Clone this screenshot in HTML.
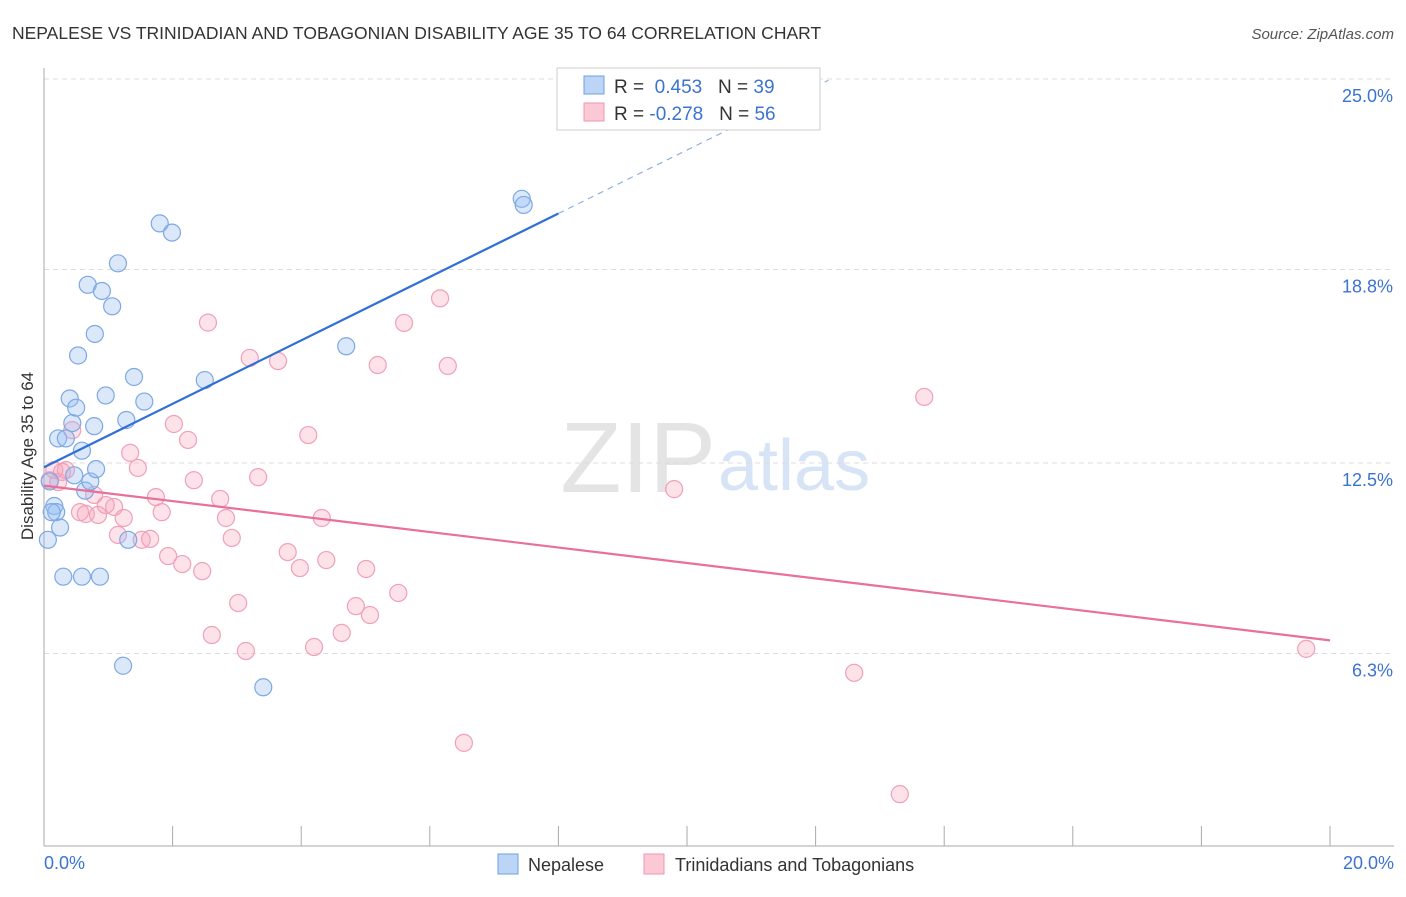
<!DOCTYPE html>
<html><head><meta charset="utf-8"><style>
body{margin:0;background:#fff;font-family:"Liberation Sans",sans-serif;}
svg text{font-family:"Liberation Sans",sans-serif;}
</style></head><body>
<svg id="c" width="1406" height="892">
<text x="12" y="39" font-size="17.5" fill="#333">NEPALESE VS TRINIDADIAN AND TOBAGONIAN DISABILITY AGE 35 TO 64 CORRELATION CHART</text>
<text x="1394" y="39" font-size="15" fill="#555" text-anchor="end" font-style="italic">Source: ZipAtlas.com</text>
<text x="716" y="492" font-size="100" fill="#e4e4e4" text-anchor="end" font-family="Liberation Serif">ZIP</text>
<text x="718" y="490" font-size="72" fill="#d6e4f5">atlas</text>
<g id="grid"></g><g id="pts"></g><g id="lines"></g>
<text transform="translate(33,456) rotate(-90)" font-size="17" fill="#333" text-anchor="middle">Disability Age 35 to 64</text>
<text x="44" y="869" font-size="18" fill="#3b73d1">0.0%</text>
<text x="1394" y="869" font-size="18" fill="#3b73d1" text-anchor="end">20.0%</text>
<g>
<rect x="557" y="68" width="263" height="62" fill="#fff" stroke="#ccc"/>
<rect x="584" y="76" width="20" height="18" fill="#bcd4f5" stroke="#6f9fe0"/>
<rect x="584" y="103" width="20" height="18" fill="#fbc9d6" stroke="#ee95ae"/>
<text x="614" y="93" font-size="19" fill="#333">R = <tspan fill="#3b73d1">&#160;0.453</tspan>&#160;&#160;&#160;N = <tspan fill="#3b73d1">39</tspan></text>
<text x="614" y="120" font-size="19" fill="#333">R = <tspan fill="#3b73d1">-0.278</tspan>&#160;&#160;&#160;N = <tspan fill="#3b73d1">56</tspan></text>
</g>
<g>
<rect x="498" y="854" width="20" height="20" fill="#bcd4f5" stroke="#6f9fe0"/>
<text x="528" y="871" font-size="18" fill="#333">Nepalese</text>
<rect x="644" y="854" width="20" height="20" fill="#fbc9d6" stroke="#ee95ae"/>
<text x="675" y="871" font-size="18" fill="#333">Trinidadians and Tobagonians</text>
</g>
</svg>
<script>
const yTicks=[25.0,18.8,12.5,6.3];
const yTickLabels=["25.0%","18.8%","12.5%","6.3%"];
const xTicks=[0,2,4,6,8,10,12,14,16,18,20];
const nepX=[0.06,0.09,0.16,0.19,0.25,0.22,0.34,0.40,0.44,0.47,0.50,0.53,0.59,0.64,0.68,0.72,0.78,0.81,0.79,0.90,0.96,1.06,1.15,1.28,1.40,1.56,1.80,1.99,2.50,4.70,7.43,7.46,1.31,0.30,0.59,0.87,1.23,3.41,0.12];
const nepY=[10.0,11.9,11.1,10.9,10.4,13.3,13.3,14.6,13.8,12.1,14.3,16.0,12.9,11.6,18.3,11.9,13.7,12.3,16.7,18.1,14.7,17.6,19.0,13.9,15.3,14.5,20.3,20.0,15.2,16.3,21.1,20.9,10.0,8.8,8.8,8.8,5.9,5.2,10.9];
const triX=[0.09,0.16,0.22,0.28,0.34,0.44,0.56,0.65,0.78,0.84,0.96,1.09,1.15,1.24,1.34,1.46,1.52,1.65,1.74,1.83,1.93,2.02,2.15,2.24,2.33,2.46,2.55,2.61,2.74,2.83,2.92,3.02,3.14,3.20,3.33,3.64,3.79,3.98,4.11,4.20,4.32,4.39,4.63,4.85,5.01,5.07,5.19,5.51,5.60,6.16,6.28,6.53,9.80,12.60,13.31,13.69,19.63];
const triY=[11.94,12.27,11.88,12.21,12.27,13.57,10.90,10.84,11.46,10.81,11.13,11.07,10.16,10.71,12.83,12.34,10.0,10.03,11.39,10.90,9.47,13.77,9.21,13.25,11.94,8.98,17.07,6.90,11.33,10.71,10.06,7.94,6.38,15.92,12.04,15.82,9.60,9.08,13.41,6.51,10.71,9.34,6.97,7.84,9.05,7.55,15.69,8.27,17.06,17.86,15.66,3.39,11.65,5.67,1.72,14.65,6.45];
const xs=x=>44+x*64.3, ys=y=>847-y*30.72;
const NS="http://www.w3.org/2000/svg";
function mk(tag,attrs,parent){const e=document.createElementNS(NS,tag);for(const k in attrs)e.setAttribute(k,attrs[k]);parent.appendChild(e);return e;}
const grid=document.getElementById('grid');
yTicks.forEach((v,i)=>{
 const l=mk('line',{x1:44,x2:1394,y1:ys(v),y2:ys(v),stroke:'#ddd','stroke-dasharray':'5,4'},grid);
 
 
 const t=mk('text',{x:1393,y:ys(v)+23,'font-size':18,fill:'#3b73d1','text-anchor':'end'},grid);
 t.textContent=yTickLabels[i];
 
 
});
const ax=mk('line',{x1:44,x2:44,y1:68,y2:846,stroke:'#aaa'},grid);


const bx=mk('line',{x1:44,x2:1394,y1:846,y2:846,stroke:'#aaa'},grid);


xTicks.forEach(v=>{
 const t=mk('line',{x1:xs(v),x2:xs(v),y1:826,y2:846,stroke:'#aaa'},grid);
 
 
});
const pts=document.getElementById('pts');
triX.forEach((x,i)=>{
 const c=mk('circle',{cx:xs(x),cy:ys(triY[i]),r:8.5,fill:'rgba(247,160,185,0.3)',stroke:'#f0a0b8','stroke-width':1.2},pts);
 
 
});
nepX.forEach((x,i)=>{
 const c=mk('circle',{cx:xs(x),cy:ys(nepY[i]),r:8.5,fill:'rgba(150,190,240,0.35)',stroke:'#7ea8e3','stroke-width':1.2},pts);
 
 
});
function fit(X,Y){const n=X.length;let mx=0,my=0;X.forEach((x,i)=>{mx+=x;my+=Y[i]});mx/=n;my/=n;let sxy=0,sxx=0;X.forEach((x,i)=>{sxy+=(x-mx)*(Y[i]-my);sxx+=(x-mx)**2});const b=sxy/sxx;return [my-b*mx,b];}
const lines=document.getElementById('lines');
const [ba,bb]=fit(nepX,nepY);
const l1=mk('line',{x1:xs(0),y1:ys(ba),x2:xs(8),y2:ys(ba+bb*8),stroke:'#2f6fd6','stroke-width':2.2},lines);


const l2=mk('line',{x1:xs(8),y1:ys(ba+bb*8),x2:xs(12.2),y2:ys(ba+bb*12.2),stroke:'#8fb0e0','stroke-width':1.2,'stroke-dasharray':'6,5'},lines);


const [ta,tb]=fit(triX,triY);
const l3=mk('line',{x1:xs(0),y1:ys(ta),x2:xs(20),y2:ys(ta+tb*20),stroke:'#e8709a','stroke-width':2.2},lines);


</script>
</body></html>
